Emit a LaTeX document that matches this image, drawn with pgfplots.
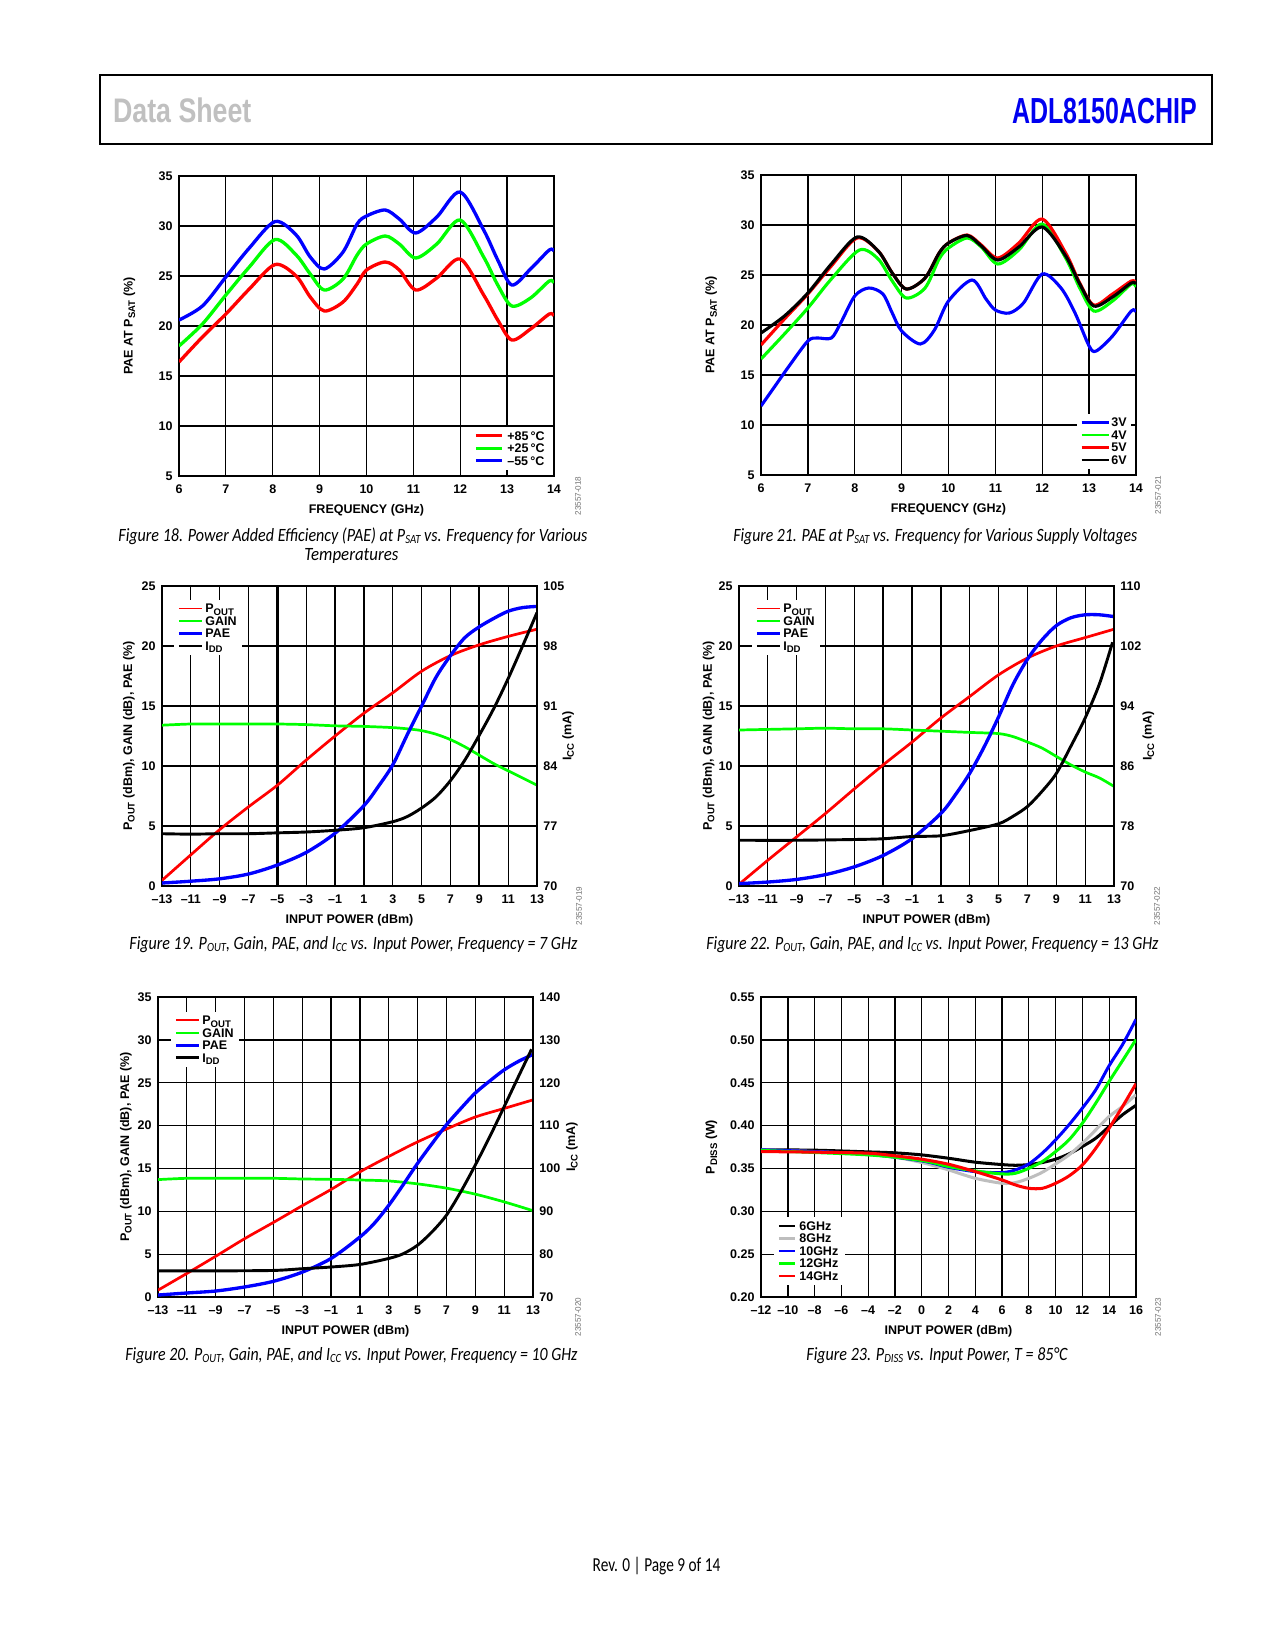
\documentclass[border=0pt]{standalone}
\usepackage{pgfplots}
\pgfplotsset{compat=1.18}
\usepackage{graphicx}
\usepackage{fontspec}
\setmainfont{Liberation Sans}
\newfontfamily\capfont{Carlito}
\definecolor{dsgray}{RGB}{192,192,192}
\definecolor{pred}{RGB}{255,0,0}
\definecolor{pgreen}{RGB}{0,255,0}
\definecolor{pblue}{RGB}{0,0,255}
\definecolor{pgray}{RGB}{190,190,190}
\definecolor{hblue}{RGB}{0,0,240}
\newcommand\tickfont{\bfseries\fontsize{6bp}{7bp}\selectfont}
\newcommand\ls[1]{\raisebox{-1.2bp}{\fontsize{4.6bp}{5bp}\selectfont #1}}
\newcommand\csub[1]{\raisebox{-0.8bp}{\fontsize{6bp}{7bp}\selectfont #1}}
\newcommand\capt[4]{\node[anchor=base west,inner sep=0pt] at (#1,#2) {\resizebox{#3}{\height}{\capfont\itshape\fontsize{9bp}{11bp}\selectfont #4}};}
\newcommand\wmark[3]{\node[rotate=90,inner sep=0pt,text=black!55,font=\fontsize{3.9bp}{4bp}\selectfont] at (#1,#2) {#3};}
\pgfplotsset{
  dsbase/.style={
    scale only axis, width=180bp, height=144bp, anchor=south west,
    axis line style={-, line width=1.1bp},
    grid=major, major grid style={black, line width=0.6bp},
    major tick length=0pt,
    tick label style={font=\tickfont, inner sep=0pt},
    xticklabel style={anchor=base, yshift=-8.16bp},
    every axis x label/.style={at={(axis description cs:0.5,0)}, anchor=base, yshift=-17.76bp, font=\tickfont, inner sep=0pt},
    every axis y label/.style={rotate=90, anchor=center, font=\tickfont, inner sep=0pt},
    legend cell align=left,
    legend style={anchor=north west, fill=white, draw=none, inner xsep=1.5bp, inner ysep=1.2bp,
      font=\tickfont, row sep=0pt,
      nodes={inner ysep=0pt, inner xsep=1.2bp, text height=5.1bp, text depth=0.9bp}},
  },
  leftticks/.style={yticklabel style={anchor=east, xshift=-2.9bp}},
  rightax/.style={dsbase, grid=none, axis x line=none, axis y line*=right,
    yticklabel style={anchor=west, xshift=2.9bp}},
  legline/.style={legend image code/.code={\draw[##1] (0bp,0bp) -- (#1,0bp);}},
}
\begin{document}
\begin{tikzpicture}
\fill[white] (0bp,0bp) rectangle (612bp,-792bp);
\begin{scope}[x=0.48bp,y=-0.48bp]
% header
\draw[line width=1bp] (100.3,75.3) rectangle (1212.3,144);
\node[anchor=base west,inner sep=0pt,text=dsgray] at (112.7,122.7) {\resizebox{66.4bp}{\height}{\bfseries\fontsize{16.35bp}{18bp}\selectfont Data Sheet}};
\node[anchor=base east,inner sep=0pt,text=hblue] at (1197.3,123.3) {\resizebox{88.6bp}{\height}{\bfseries\fontsize{17.4bp}{19bp}\selectfont ADL8150ACHIP}};
% footer
\node[anchor=base west,inner sep=0pt] at (592.3,1572) {\resizebox{61.3bp}{\height}{\capfont\fontsize{9.5bp}{11bp}\selectfont Rev. 0 | Page 9 of 14}};
% captions and codes
\wmark{578}{496}{23557-018}
\capt{118}{542}{225.1bp}{Figure 18. Power Added Efficiency (PAE) at P\csub{SAT} vs. Frequency for Various}
\capt{304}{561}{45.1bp}{Temperatures}
\wmark{1158}{495}{23557-021}
\capt{733}{542}{193.9bp}{Figure 21. PAE at P\csub{SAT} vs. Frequency for Various Supply Voltages}
\wmark{579}{906}{23557-019}
\capt{129}{950}{215bp}{Figure 19. P\csub{OUT}, Gain, PAE, and I\csub{CC} vs. Input Power, Frequency = 7 GHz}
\wmark{1157}{906}{23557-022}
\capt{706}{950}{217bp}{Figure 22. P\csub{OUT}, Gain, PAE, and I\csub{CC} vs. Input Power, Frequency = 13 GHz}
\wmark{578}{1317}{23557-020}
\capt{125}{1361}{217bp}{Figure 20. P\csub{OUT}, Gain, PAE, and I\csub{CC} vs. Input Power, Frequency = 10 GHz}
\wmark{1158}{1317}{23557-023}
\capt{806}{1361}{125.3bp}{Figure 23. P\csub{DISS} vs. Input Power, T = 85°C}
\end{scope}

% ================= Figure 18 =================
\begin{axis}[dsbase, leftticks, legline=12.5bp, at={(85.92bp,-228.48bp)},
  xmin=6, xmax=14, ymin=5, ymax=35,
  xtick={6,7,8,9,10,11,12,13,14}, xticklabels={6,7,8,9,10,11,12,13,14},
  ytick={5,10,15,20,25,30,35}, yticklabels={5,10,15,20,25,30,35},
  xlabel={FREQUENCY (GHz)}, ylabel={PAE AT P\ls{SAT} (\%)},
  ylabel style={at={(axis description cs:-0.132,0.5)}},
  legend style={at={(0.7784,0.1647)}, nodes={inner xsep=2bp}}]
\addplot[pred, line width=1.6bp, smooth, forget plot] coordinates {(6,16.4) (6.5,18.9) (7,21.2) (7.5,23.7) (8.05,26.15) (8.5,25.0) (8.8,22.9) (9.1,21.5) (9.5,22.4) (9.8,24.2) (10,25.6) (10.4,26.4) (10.7,25.6) (11.05,23.6) (11.5,24.8) (12,26.7) (12.5,23.1) (12.8,20.6) (13.1,18.6) (13.5,19.7) (13.9,21.2) (14,21.0)};
\addplot[pgreen, line width=1.6bp, smooth, forget plot] coordinates {(6,18.0) (6.5,20.2) (7,23.1) (7.5,25.9) (8.05,28.65) (8.5,27.1) (8.8,25.2) (9.1,23.6) (9.5,24.7) (9.8,27.1) (10,28.2) (10.4,29.0) (10.7,28.2) (11.05,26.8) (11.5,28.2) (12,30.6) (12.5,26.9) (12.8,24.1) (13.1,22.0) (13.5,22.8) (13.9,24.5) (14,24.3)};
\addplot[pblue, line width=1.6bp, smooth, forget plot] coordinates {(6,20.6) (6.5,22.0) (7,24.9) (7.5,27.8) (8.05,30.45) (8.5,29.1) (8.8,26.9) (9.1,25.7) (9.5,27.4) (9.8,30.2) (10,31.0) (10.4,31.6) (10.7,30.7) (11.05,29.3) (11.5,30.9) (12,33.4) (12.5,29.6) (12.8,26.6) (13.1,24.1) (13.5,25.7) (13.9,27.6) (14,27.5)};
\addlegendimage{pred, line width=1.3bp}\addlegendentry{+85\,°C}
\addlegendimage{pgreen, line width=1.3bp}\addlegendentry{+25\,°C}
\addlegendimage{pblue, line width=1.3bp}\addlegendentry{–55\,°C}
\end{axis}

% ================= Figure 21 =================
\begin{axis}[dsbase, leftticks, legline=13bp, at={(365.28bp,-228bp)},
  xmin=6, xmax=14, ymin=5, ymax=35,
  xtick={6,7,8,9,10,11,12,13,14}, xticklabels={6,7,8,9,10,11,12,13,14},
  ytick={5,10,15,20,25,30,35}, yticklabels={5,10,15,20,25,30,35},
  xlabel={FREQUENCY (GHz)}, ylabel={PAE AT P\ls{SAT} (\%)},
  ylabel style={at={(axis description cs:-0.1333,0.5)}},
  legend style={at={(0.842,0.2052)}, nodes={inner xsep=0.6bp}}]
\addplot[pblue, line width=1.5bp, smooth, forget plot] coordinates {(6,11.9) (6.3,13.9) (6.6,15.9) (7,18.4) (7.2,18.7) (7.5,18.7) (7.7,20.2) (8,22.9) (8.3,23.7) (8.6,23.1) (8.8,21.2) (9,19.4) (9.4,18.1) (9.7,19.5) (10,22.4) (10.5,24.5) (10.8,22.6) (11,21.5) (11.3,21.2) (11.6,22.2) (12,25.1) (12.4,23.7) (12.7,21.2) (13,17.9) (13.15,17.4) (13.5,18.9) (13.9,21.4) (14,21.3)};
\addplot[pgreen, line width=1.5bp, smooth, forget plot] coordinates {(6,16.6) (6.5,19.1) (7,21.7) (7.5,24.6) (8.1,27.5) (8.5,26.6) (8.8,24.4) (9.1,22.7) (9.5,23.7) (9.8,26.6) (10,27.7) (10.4,28.7) (10.7,27.8) (11.05,26.1) (11.5,27.5) (12,30.1) (12.5,26.7) (12.8,23.7) (13.1,21.4) (13.5,22.4) (13.9,24.1) (14,23.8)};
\addplot[pred, line width=1.5bp, smooth, forget plot] coordinates {(6,18.0) (6.5,20.6) (7,23.1) (7.5,25.9) (8.05,28.7) (8.5,27.4) (8.8,25.2) (9.1,23.6) (9.5,24.7) (9.8,27.2) (10,28.2) (10.4,29.0) (10.7,28.0) (11.05,26.7) (11.5,28.2) (12,30.6) (12.5,27.2) (12.8,24.2) (13.1,22.0) (13.5,23.1) (13.9,24.4) (14,24.2)};
\addplot[black, line width=1.5bp, smooth, forget plot] coordinates {(6,19.2) (6.5,20.9) (7,23.2) (7.5,26.1) (8.05,28.8) (8.5,27.4) (8.8,25.2) (9.1,23.6) (9.5,24.7) (9.8,27.2) (10,28.2) (10.4,28.95) (10.7,27.9) (11.05,26.5) (11.5,27.8) (12,29.8) (12.5,26.9) (12.8,24.1) (13.1,21.9) (13.5,22.8) (13.9,24.2) (14,24.1)};
\addlegendimage{pblue, line width=1.3bp}\addlegendentry{3V}
\addlegendimage{pgreen, line width=1.3bp}\addlegendentry{4V}
\addlegendimage{pred, line width=1.3bp}\addlegendentry{5V}
\addlegendimage{black, line width=1.3bp}\addlegendentry{6V}
\end{axis}

% ================= Figure 19 =================
\begin{axis}[dsbase, leftticks, legline=11bp, at={(77.76bp,-425.28bp)},
  xmin=-13, xmax=13, ymin=0, ymax=25,
  xtick={-13,-11,...,13}, xticklabels={–13,–11,–9,–7,–5,–3,–1,1,3,5,7,9,11,13},
  ytick={0,5,...,25}, yticklabels={0,5,10,15,20,25},
  extra x ticks={-5,9}, extra x tick labels={},
  extra x tick style={grid=major, major grid style={black, line width=1.1bp}},
  xlabel={INPUT POWER (dBm)}, ylabel={P\ls{OUT} (dBm), GAIN (dB), PAE (\%)},
  ylabel style={at={(axis description cs:-0.088,0.5)}},
  legend style={at={(0.0317,0.9553)}, nodes={inner xsep=1.1bp}}]
\addplot[pred, line width=1.3bp, smooth, forget plot] coordinates {(-13,0.47) (-11,2.6) (-9,4.7) (-7,6.6) (-5,8.4) (-3,10.5) (-1,12.5) (1,14.4) (3,16.1) (5,17.9) (7,19.2) (9,20.1) (11,20.8) (13,21.4)};
\addplot[pgreen, line width=1.3bp, smooth, forget plot] coordinates {(-13,13.4) (-11,13.5) (-9,13.5) (-7,13.5) (-5,13.5) (-3,13.45) (-1,13.35) (1,13.3) (3,13.2) (4,13.1) (5,12.95) (6,12.65) (7,12.2) (8,11.6) (9,10.9) (10,10.2) (11,9.6) (12,9.0) (13,8.4)};
\addplot[pblue, line width=1.6bp, smooth, forget plot] coordinates {(-13,0.25) (-11,0.4) (-9,0.6) (-7,1.0) (-5,1.75) (-3,2.8) (-1,4.4) (1,6.7) (2,8.3) (3,10.1) (4,12.6) (5,15.0) (6,17.4) (7,19.2) (8,20.7) (9,21.6) (10,22.3) (11,22.9) (12,23.2) (13,23.3)};
\addlegendimage{pred, line width=0.8bp}\addlegendentry{P\ls{OUT}}
\addlegendimage{pgreen, line width=0.8bp}\addlegendentry{GAIN}
\addlegendimage{pblue, line width=1.3bp}\addlegendentry{PAE}
\addlegendimage{black, line width=1.3bp}\addlegendentry{I\ls{DD}}
\end{axis}
\begin{axis}[rightax, at={(77.76bp,-425.28bp)},
  xmin=-13, xmax=13, ymin=70, ymax=105,
  ytick={70,77,84,91,98,105}, yticklabels={70,77,84,91,98,105},
  ylabel={I\ls{CC} (mA)},
  ylabel style={at={(axis description cs:1.0827,0.5)}}]
\addplot[black, line width=1.4bp, smooth] coordinates {(-13,76.1) (-11,76.05) (-9,76.1) (-7,76.1) (-5,76.2) (-3,76.3) (-1,76.5) (1,76.8) (3,77.5) (4,78.1) (5,79.1) (6,80.4) (7,82.3) (8,84.7) (9,87.6) (10,90.7) (11,94.2) (12,98.0) (13,101.9)};
\end{axis}

% ================= Figure 22 =================
\begin{axis}[dsbase, leftticks, legline=11bp, at={(354.72bp,-425.28bp)},
  xmin=-13, xmax=13, ymin=0, ymax=25,
  xtick={-13,-11,...,13}, xticklabels={–13,–11,–9,–7,–5,–3,–1,1,3,5,7,9,11,13},
  ytick={0,5,...,25}, yticklabels={0,5,10,15,20,25},
  extra x ticks={-3}, extra x tick labels={},
  extra x tick style={grid=major, major grid style={black, line width=1.1bp}},
  xlabel={INPUT POWER (dBm)}, ylabel={P\ls{OUT} (dBm), GAIN (dB), PAE (\%)},
  ylabel style={at={(axis description cs:-0.0813,0.5)}},
  legend style={at={(0.0343,0.9553)}, nodes={inner xsep=1.1bp}}]
\addplot[pred, line width=1.3bp, smooth, forget plot] coordinates {(-13,0.14) (-11,2.15) (-9,4.1) (-7,6.05) (-5,8.1) (-3,10.1) (-1,12.0) (1,14.0) (3,15.8) (5,17.6) (7,19.0) (9,20.0) (11,20.7) (13,21.4)};
\addplot[pgreen, line width=1.3bp, smooth, forget plot] coordinates {(-13,13.0) (-11,13.05) (-9,13.1) (-7,13.15) (-5,13.1) (-3,13.1) (-1,13.0) (1,12.9) (3,12.8) (5,12.7) (6,12.45) (7,12.0) (8,11.5) (9,10.8) (10,10.1) (11,9.5) (12,9.0) (13,8.3)};
\addplot[pblue, line width=1.6bp, smooth, forget plot] coordinates {(-13,0.2) (-11,0.33) (-9,0.55) (-7,0.95) (-5,1.6) (-3,2.55) (-1,3.95) (1,6.05) (2,7.6) (3,9.4) (4,11.6) (5,14.1) (6,16.8) (7,18.9) (8,20.5) (9,21.7) (10,22.35) (11,22.6) (12,22.6) (13,22.45)};
\addlegendimage{pred, line width=0.8bp}\addlegendentry{P\ls{OUT}}
\addlegendimage{pgreen, line width=0.8bp}\addlegendentry{GAIN}
\addlegendimage{pblue, line width=1.3bp}\addlegendentry{PAE}
\addlegendimage{black, line width=1.3bp}\addlegendentry{I\ls{DD}}
\end{axis}
\begin{axis}[rightax, at={(354.72bp,-425.28bp)},
  xmin=-13, xmax=13, ymin=70, ymax=110,
  ytick={70,78,86,94,102,110}, yticklabels={70,78,86,94,102,110},
  ylabel={I\ls{CC} (mA)},
  ylabel style={at={(axis description cs:1.092,0.5)}}]
\addplot[black, line width=1.4bp, smooth] coordinates {(-13,76.1) (-9,76.1) (-5,76.2) (-3,76.3) (-1,76.6) (1,76.7) (3,77.4) (5,78.3) (6,79.3) (7,80.6) (8,82.6) (9,85.0) (10,88.6) (11,92.4) (12,97.0) (12.9,102.5)};
\end{axis}

% ================= Figure 20 =================
\begin{axis}[dsbase, leftticks, legline=11bp, at={(75.84bp,-622.56bp)},
  xmin=-13, xmax=13, ymin=0, ymax=35,
  xtick={-13,-11,...,13}, xticklabels={–13,–11,–9,–7,–5,–3,–1,1,3,5,7,9,11,13},
  ytick={0,5,...,35}, yticklabels={0,5,10,15,20,25,30,35},
  xlabel={INPUT POWER (dBm)}, ylabel={P\ls{OUT} (dBm), GAIN (dB), PAE (\%)},
  ylabel style={at={(axis description cs:-0.0853,0.5)}},
  legend style={at={(0.0344,0.953)}, nodes={inner xsep=1.1bp}}]
\addplot[pred, line width=1.3bp, smooth, forget plot] coordinates {(-13,0.8) (-11,2.75) (-9,4.75) (-7,6.8) (-5,8.7) (-3,10.65) (-1,12.55) (1,14.6) (3,16.4) (5,18.1) (7,19.6) (9,21.0) (11,22.0) (13,23.0)};
\addplot[pgreen, line width=1.3bp, smooth, forget plot] coordinates {(-13,13.7) (-11,13.85) (-9,13.85) (-7,13.85) (-5,13.85) (-3,13.77) (-1,13.73) (1,13.65) (3,13.54) (5,13.2) (7,12.7) (9,12.0) (11,11.1) (13,10.07)};
\addplot[pblue, line width=1.6bp, smooth, forget plot] coordinates {(-13,0.23) (-11,0.47) (-9,0.7) (-7,1.17) (-5,1.83) (-3,2.9) (-1,4.5) (1,7.0) (2,8.6) (3,10.7) (4,13.1) (5,15.6) (6,17.9) (7,20.1) (8,22.0) (9,23.8) (10,25.2) (11,26.5) (12,27.5) (13,28.3)};
\addlegendimage{pred, line width=0.8bp}\addlegendentry{P\ls{OUT}}
\addlegendimage{pgreen, line width=0.8bp}\addlegendentry{GAIN}
\addlegendimage{pblue, line width=1.3bp}\addlegendentry{PAE}
\addlegendimage{black, line width=1.3bp}\addlegendentry{I\ls{DD}}
\end{axis}
\begin{axis}[rightax, at={(75.84bp,-622.56bp)},
  xmin=-13, xmax=13, ymin=70, ymax=140,
  ytick={70,80,...,140}, yticklabels={70,80,90,100,110,120,130,140},
  ylabel={I\ls{CC} (mA)},
  ylabel style={at={(axis description cs:1.104,0.5)}}]
\addplot[black, line width=1.4bp, smooth] coordinates {(-13,76.1) (-9,76.1) (-5,76.2) (-3,76.6) (-1,77.0) (1,77.6) (3,79.0) (4,80.1) (5,82.1) (6,85.2) (7,89.1) (8,94.6) (9,100.8) (10,107.4) (11,114.4) (12,121.5) (12.9,127.8)};
\end{axis}

% ================= Figure 23 =================
\begin{axis}[dsbase, leftticks, legline=7.7bp, at={(365.28bp,-622.56bp)},
  xmin=-12, xmax=16, ymin=0.2, ymax=0.55,
  xtick={-12,-10,...,16}, xticklabels={–12,–10,–8,–6,–4,–2,0,2,4,6,8,10,12,14,16},
  ytick={0.2,0.25,0.3,0.35,0.4,0.45,0.5,0.55}, yticklabels={0.20,0.25,0.30,0.35,0.40,0.45,0.50,0.55},
  extra x ticks={-10}, extra x tick labels={},
  extra x tick style={grid=major, major grid style={black, line width=1.1bp}},
  xlabel={INPUT POWER (dBm)}, ylabel={P\ls{DISS} (W)},
  ylabel style={at={(axis description cs:-0.132,0.5)}},
  legend style={at={(0.0345,0.2674)}, nodes={inner xsep=1.5bp}}]
\addplot[black, line width=1.45bp, smooth, forget plot] coordinates {(-12,0.3717) (-8,0.3713) (-4,0.3693) (-2,0.3682) (0,0.3658) (2,0.3619) (4,0.3573) (6,0.3545) (7,0.3537) (8,0.3545) (9,0.3569) (10,0.3608) (11,0.367) (12,0.3756) (13,0.3853) (14,0.399) (15,0.4127) (16,0.4236)};
\addplot[pgray, line width=1.45bp, smooth, forget plot] coordinates {(-12,0.3717) (-8,0.3697) (-4,0.3662) (-2,0.3631) (0,0.3569) (2,0.3483) (4,0.3385) (6,0.3327) (7,0.3335) (8,0.3385) (9,0.3455) (10,0.3553) (11,0.3658) (12,0.3795) (13,0.3951) (14,0.4107) (15,0.4224) (16,0.4361)};
\addplot[pblue, line width=1.45bp, smooth, forget plot] coordinates {(-12,0.3717) (-8,0.3697) (-4,0.3666) (0,0.3588) (2,0.3514) (4,0.3463) (6,0.3452) (7,0.3483) (8,0.3553) (9,0.3678) (10,0.3834) (11,0.401) (12,0.4205) (13,0.4419) (14,0.47) (15,0.4946) (16,0.5239)};
\addplot[pgreen, line width=1.45bp, smooth, forget plot] coordinates {(-12,0.371) (-4,0.3658) (0,0.3592) (2,0.3522) (4,0.3471) (6,0.3436) (7,0.3444) (8,0.3502) (9,0.358) (10,0.3697) (11,0.3834) (12,0.4029) (13,0.4263) (14,0.4517) (15,0.4759) (16,0.5004)};
\addplot[pred, line width=1.45bp, smooth, forget plot] coordinates {(-12,0.3697) (-8,0.369) (-4,0.3678) (-2,0.3647) (0,0.3608) (2,0.3549) (4,0.3463) (6,0.3366) (7,0.3307) (8,0.3268) (9,0.3268) (10,0.3327) (11,0.3413) (12,0.3541) (13,0.3736) (14,0.3971) (15,0.4224) (16,0.4489)};
\addlegendimage{black, line width=1bp}\addlegendentry{6GHz}
\addlegendimage{pgray, line width=1.3bp}\addlegendentry{8GHz}
\addlegendimage{pblue, line width=1.3bp}\addlegendentry{10GHz}
\addlegendimage{pgreen, line width=1.3bp}\addlegendentry{12GHz}
\addlegendimage{pred, line width=1.3bp}\addlegendentry{14GHz}
\end{axis}
\end{tikzpicture}
\end{document}
